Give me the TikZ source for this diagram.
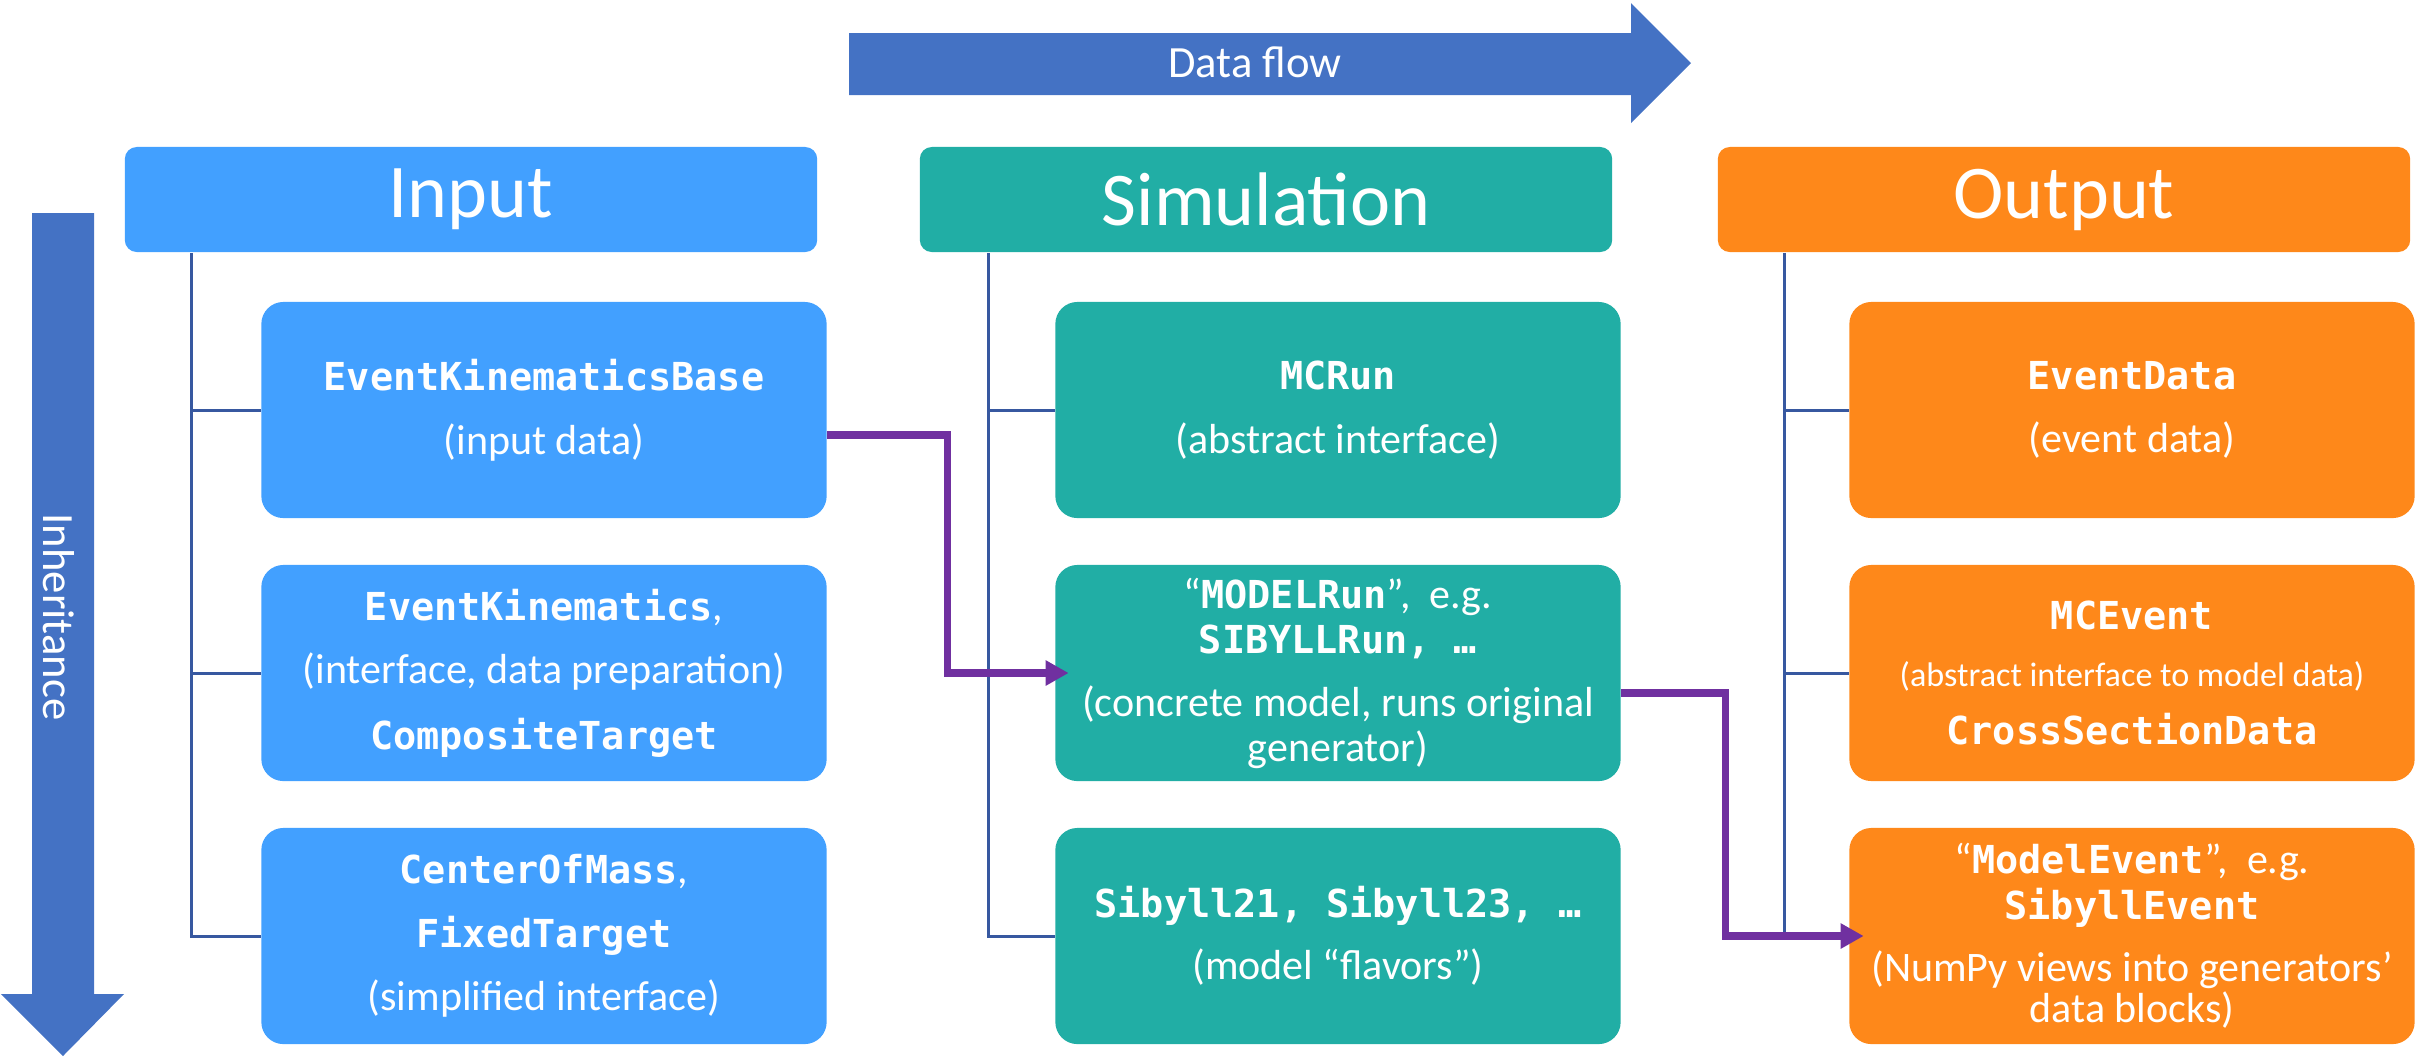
\documentclass[tikz,border=0pt]{standalone}
\usepackage{fontspec}
\setmainfont{Carlito}
\newfontfamily\monofont{DejaVu Sans Mono}
\usepackage{tikz}
\usetikzlibrary{arrows.meta}
\definecolor{inblue}{RGB}{66,160,255}
\definecolor{simteal}{RGB}{33,174,165}
\definecolor{outorange}{RGB}{254,136,26}
\definecolor{arrowblue}{RGB}{68,114,196}
\definecolor{treeblue}{RGB}{55,88,160}
\definecolor{flowpurple}{RGB}{112,48,160}
\newcommand{\clsname}[1]{{\monofont\bfseries\fontsize{10.95}{12.8}\selectfont #1}}

\begin{document}
\begin{tikzpicture}[x=0.01cm, y=-0.01cm,
    header/.style={fill=#1, rounded corners=0.12cm, minimum width=6.92cm, minimum height=1.05cm,
        text=white, font=\fontsize{21.6}{24}\selectfont},
    item/.style={fill=#1, rounded corners=0.22cm, minimum width=5.65cm, minimum height=2.16cm,
        text=white, align=center, font=\fontsize{11.95}{12.8}\selectfont},
    tree/.style={draw=treeblue, line width=0.03cm},
    flow/.style={draw=flowpurple, line width=0.073cm, -{Triangle[length=0.23cm, width=0.24cm]}}]
    \useasboundingbox (0,0) rectangle (2420,1056);

    % Data flow arrow
    \fill[arrowblue] (849,33) -- (1631,33) -- (1631,3) -- (1691,63) -- (1631,123) -- (1631,95) -- (849,95) -- cycle;
    \node[text=white, font=\fontsize{12.7}{15}\selectfont] (flowlbl) at (1255,62) {Data flow};

    % Inheritance arrow
    \fill[arrowblue] (32,213) -- (94,213) -- (94,994) -- (124,994) -- (63,1056) -- (1,994) -- (32,994) -- cycle;
    \node[text=white, rotate=-90, font=\fontsize{12.7}{15}\selectfont] (inhlbl) at (59,617) {Inheritance};

    % Input
    \node[header=inblue] (inHdr) at (471,199.5) {Input};
    \node[item=inblue] (inA) at (544,410) {\clsname{EventKinematicsBase}\\[5.3pt] (input data)};
    \node[item=inblue] (inB) at (544,673) {\clsname{EventKinematics},\\[5.1pt] (interface, data preparation)\\[6pt] \clsname{CompositeTarget}};
    \node[item=inblue] (inC) at (544,936) {\clsname{CenterOfMass},\\[5.3pt] \clsname{FixedTarget}\\[5.1pt] (simplified interface)};

    % Simulation
    \node[header=simteal] (simHdr) at (1266,199.5) {Simulation};
    \node[item=simteal] (simA) at (1338,410) {\clsname{MCRun}\\[5.3pt] (abstract interface)};
    \node[item=simteal] (simB) at (1338,673) {“\clsname{MODELRun}”,~~e.g.\\ \clsname{SIBYLLRun, …}\\[5.1pt] (concrete model, runs original\\ generator)};
    \node[item=simteal] (simC) at (1338,936) {\clsname{Sibyll21, Sibyll23, …}\\[4.8pt] (model “flavors”)};

    % Output
    \node[header=outorange] (outHdr) at (2064,199.5) {Output};
    \node[item=outorange] (outA) at (2132,410) {\clsname{EventData}\\[5.3pt] (event data)};
    \node[item=outorange] (outB) at (2132,673) {\clsname{MCEvent}\\[3.4pt] {\fontsize{9.7}{12.8}\selectfont (abstract interface to model data)}\\[3.6pt] \clsname{CrossSectionData}};
    \node[item=outorange] (outC) at (2132,936) {“\clsname{ModelEvent}”,~~e.g.\\[0.3pt] \clsname{SibyllEvent}\\[4.8pt] (NumPy views into generators’\\[-1pt] data blocks)};

    % Inheritance trees
    \draw[tree] (inHdr.south west) ++(67,0) coordinate (inTrunk) |- (inC.west);
    \draw[tree] (inTrunk |- inA.west) -- (inA.west);
    \draw[tree] (inTrunk |- inB.west) -- (inB.west);
    \draw[tree] (simHdr.south west) ++(69,0) coordinate (simTrunk) |- (simC.west);
    \draw[tree] (simTrunk |- simA.west) -- (simA.west);
    \draw[tree] (simTrunk |- simB.west) -- (simB.west);
    \draw[tree] (outHdr.south west) ++(67,0) coordinate (outTrunk) |- (outC.west);
    \draw[tree] (outTrunk |- outA.west) -- (outA.west);
    \draw[tree] (outTrunk |- outB.west) -- (outB.west);

    % Data flow links
    \draw[flow, shorten >=-0.14cm] ([yshift=-0.25cm]inA.east) -- ++(120,0) |- (simB.west);
    \draw[flow, shorten >=-0.15cm] ([yshift=-0.2cm]simB.east) -- ++(104,0) |- (outC.west);

\end{tikzpicture}
\end{document}
